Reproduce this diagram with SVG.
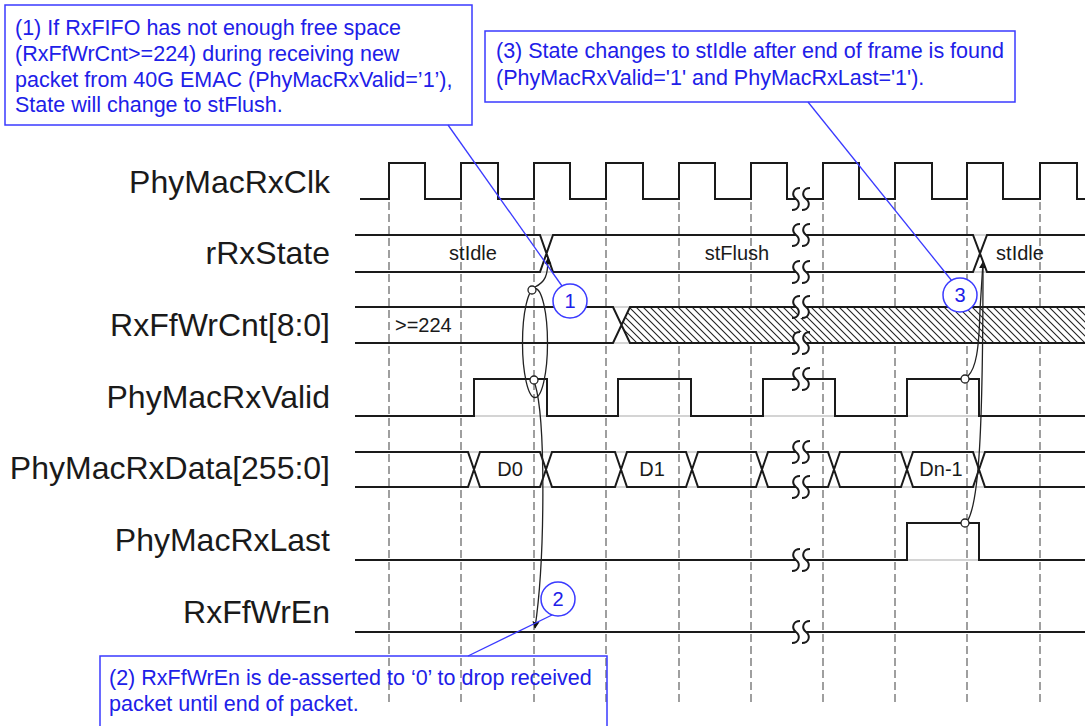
<svg xmlns="http://www.w3.org/2000/svg" xmlns:xlink="http://www.w3.org/1999/xlink" width="1085" height="726" viewBox="0 0 1085 726">
<style>
.lbl{font-family:"Liberation Sans",Arial,sans-serif;font-size:32px;fill:#1a1a1a;text-anchor:end}
.val{font-family:"Liberation Sans",Arial,sans-serif;font-size:20px;fill:#1a1a1a}
.mid{text-anchor:middle}
.sig{fill:none;stroke:#1a1a1a;stroke-width:2}
.ghost{fill:none;stroke:#d4d4d4;stroke-width:2}
.grid{stroke:#808080;stroke-width:1.5;stroke-dasharray:8 4}
.note{font-family:"Liberation Sans",Arial,sans-serif;font-size:21.5px;fill:#2020e8}
.nbox{fill:none;stroke:#3a3aff;stroke-width:1.5}
.nline{fill:none;stroke:#3a3aff;stroke-width:1.3}
.ncirc{fill:#fff;stroke:#3a3aff;stroke-width:1.5}
.nnum{font-family:"Liberation Sans",Arial,sans-serif;font-size:20px;fill:#2020e8;text-anchor:middle}
.ev{fill:none;stroke:#222;stroke-width:1.3}
.evc{fill:#fff;stroke:#222;stroke-width:1.3}
</style>
<defs>
<pattern id="hatch" patternUnits="userSpaceOnUse" width="7" height="7">
<path d="M0,0 L7,7 M-1,6 L1,8 M6,-1 L8,1" stroke="#222" stroke-width="1.1"/>
</pattern>
<g id="brk">
<path d="M-1,-11 C-8,-11 -10,-4 -5,0 C0,4 -2,11 -9,11 L1,11 C8,11 10,4 5,0 C0,-4 2,-11 9,-11 Z" fill="#fff"/>
<path d="M-1,-11 C-8,-11 -10,-4 -5,0 C0,4 -2,11 -9,11" fill="none" stroke="#1a1a1a" stroke-width="2"/>
<path d="M9,-11 C2,-11 0,-4 5,0 C10,4 8,11 1,11" fill="none" stroke="#1a1a1a" stroke-width="2"/>
</g>
<marker id="ah" viewBox="0 0 10 10" refX="9" refY="5" markerWidth="7" markerHeight="8" orient="auto" markerUnits="userSpaceOnUse">
<path d="M0,0 L10,5 L0,10 Z" fill="#111"/>
</marker>
</defs>
<rect width="1085" height="726" fill="#fff"/>

<g id="grid">
<line class="grid" x1="389" y1="202" x2="389" y2="703"/>
<line class="grid" x1="461" y1="202" x2="461" y2="703"/>
<line class="grid" x1="534" y1="202" x2="534" y2="703"/>
<line class="grid" x1="606" y1="202" x2="606" y2="703"/>
<line class="grid" x1="679" y1="202" x2="679" y2="703"/>
<line class="grid" x1="751" y1="202" x2="751" y2="703"/>
<line class="grid" x1="823" y1="202" x2="823" y2="703"/>
<line class="grid" x1="895" y1="202" x2="895" y2="703"/>
<line class="grid" x1="967" y1="202" x2="967" y2="703"/>
<line class="grid" x1="1040" y1="202" x2="1040" y2="703"/>
</g>

<g id="labels">
<text class="lbl" x="330" y="193">PhyMacRxClk</text>
<text class="lbl" x="330" y="264">rRxState</text>
<text class="lbl" x="330" y="336">RxFfWrCnt[8:0]</text>
<text class="lbl" x="330" y="408">PhyMacRxValid</text>
<text class="lbl" x="330" y="479">PhyMacRxData[255:0]</text>
<text class="lbl" x="330" y="551">PhyMacRxLast</text>
<text class="lbl" x="330" y="623">RxFfWrEn</text>
</g>

<g id="ghosts">
<path class="ghost" d="M355,235 H1085 M355,272 H1085 M355,307 H630 M355,343 H630 M355,416 H1085 M355,452 H1085 M355,487 H1085 M355,560 H1085"/>
</g>

<g id="PhyMacRxClk">
<path class="sig" d="M360,199 H389 V163 H425 V199 H461 V163 H498 V199 H534 V163 H570 V199 H606 V163 H643 V199 H679 V163 H715 V199 H751 V163 H787 V199 H823 V163 H859 V199 H895 V163 H932 V199 H967 V163 H1003 V199 H1040 V163 H1077 V199 H1085"/>
<use href="#brk" transform="translate(801,199)"/>
</g>

<g id="rRxState">
<path class="sig" d="M355,235 H540 L553,272 H973 L987,235 H1085 M355,272 H540 L553,235 H973 L987,272 H1085"/>
<text class="val mid" x="473" y="260">stIdle</text>
<text class="val mid" x="737" y="260">stFlush</text>
<text class="val mid" x="1020" y="260">stIdle</text>
<use href="#brk" transform="translate(801,235)"/>
<use href="#brk" transform="translate(801,272)"/>
</g>

<g id="RxFfWrCnt">
<polygon points="621.5,325 630,307 1085,307 1085,343 630,343" fill="#fff"/>
<polygon points="621.5,325 630,307 1085,307 1085,343 630,343" fill="url(#hatch)"/>
<path class="sig" d="M355,307 H613 L630,343 H1085 M355,343 H613 L630,307 H1085"/>
<text class="val" x="395" y="332">&gt;=224</text>
<use href="#brk" transform="translate(801,307)"/>
<use href="#brk" transform="translate(801,343)"/>
</g>

<g id="PhyMacRxValid">
<path class="sig" d="M355,416 H474 V379 H547 V416 H618 V379 H691 V416 H763 V379 H835 V416 H907 V379 H979 V416 H1085"/>
<use href="#brk" transform="translate(801,379)"/>
</g>

<g id="PhyMacRxData">
<path class="sig" d="M355,452 H468 L480,487 H540 L552,452 H615 L627,487 H686 L698,452 H756 L768,487 H828 L840,452 H901 L913,487 H973 L985,452 H1085 M355,487 H468 L480,452 H540 L552,487 H615 L627,452 H686 L698,487 H756 L768,452 H828 L840,487 H901 L913,452 H973 L985,487 H1085"/>
<text class="val mid" x="510" y="476">D0</text>
<text class="val mid" x="652" y="476">D1</text>
<text class="val mid" x="941" y="476">Dn-1</text>
<use href="#brk" transform="translate(801,452)"/>
<use href="#brk" transform="translate(801,487)"/>
</g>

<g id="PhyMacRxLast">
<path class="sig" d="M355,560 H907 V523 H979 V560 H1085"/>
<use href="#brk" transform="translate(801,560)"/>
</g>

<g id="RxFfWrEn">
<path class="sig" d="M355,632 H1085"/>
<use href="#brk" transform="translate(801,632)"/>
</g>

<g id="connectors">
<ellipse class="ev" cx="535" cy="343" rx="12.5" ry="54.5"/>
<path class="ev" d="M535,287 C545,282 548,276 548,258" marker-end="url(#ah)"/>
<path class="ev" d="M535,384 C546,420 545,560 535,628" marker-end="url(#ah)"/>
<path class="ev" d="M968,376 C976,368 979,350 980,310 L983,262" marker-end="url(#ah)"/>
<path class="ev" d="M968,520 C979,500 983,430 983,262"/>
<circle class="evc" cx="532" cy="290" r="4"/>
<circle class="evc" cx="534" cy="380" r="4"/>
<circle class="evc" cx="965" cy="379" r="4"/>
<circle class="evc" cx="965" cy="523" r="4"/>
<line class="nline" x1="448" y1="125" x2="562" y2="286"/>
<line class="nline" x1="808" y1="102" x2="952" y2="281"/>
<line class="nline" x1="468" y1="656" x2="552" y2="615"/>
</g>

<g id="note1">
<rect class="nbox" x="5" y="5" width="467" height="120"/>
<text class="note" x="15" y="35">(1) If RxFIFO has not enough free space</text>
<text class="note" x="15" y="61">(RxFfWrCnt&gt;=224) during receiving new</text>
<text class="note" x="15" y="87">packet from 40G EMAC (PhyMacRxValid=’1’),</text>
<text class="note" x="15" y="112">State will change to stFlush.</text>
</g>

<g id="note3">
<rect class="nbox" x="485" y="31" width="530" height="71"/>
<text class="note" x="496" y="58">(3) State changes to stIdle after end of frame is found</text>
<text class="note" x="496" y="85">(PhyMacRxValid='1' and PhyMacRxLast='1').</text>
</g>

<g id="note2">
<rect class="nbox" x="100" y="656" width="507" height="85"/>
<text class="note" x="109" y="685">(2) RxFfWrEn is de-asserted to ‘0’ to drop received</text>
<text class="note" x="109" y="711">packet until end of packet.</text>
</g>

<g id="mark1">
<circle class="ncirc" cx="570" cy="301" r="17"/>
<text class="nnum" x="570" y="308">1</text>
</g>
<g id="mark2">
<circle class="ncirc" cx="558" cy="599" r="17"/>
<text class="nnum" x="558" y="606">2</text>
</g>
<g id="mark3">
<circle class="ncirc" cx="960" cy="295" r="17"/>
<text class="nnum" x="960" y="302">3</text>
</g>
</svg>
